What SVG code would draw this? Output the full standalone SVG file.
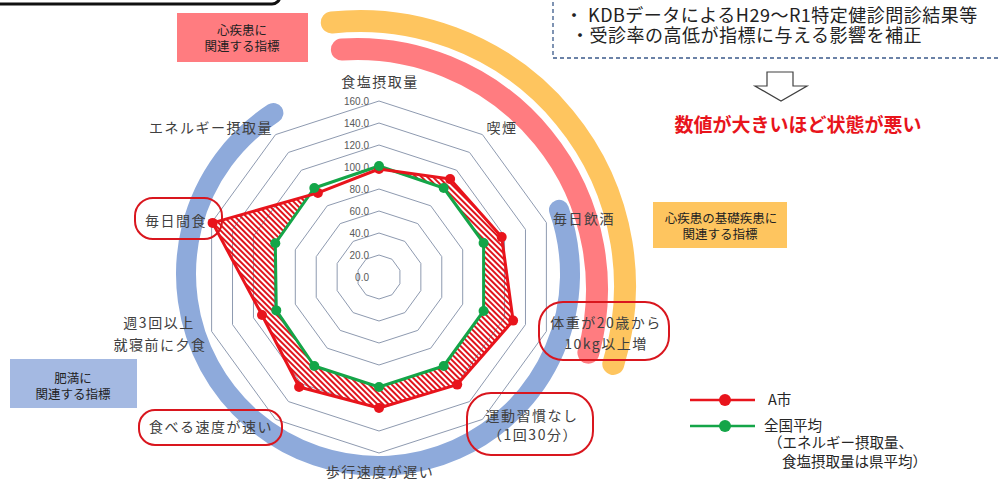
<svg xmlns="http://www.w3.org/2000/svg" width="1001" height="481" viewBox="0 0 1001 481">
<defs>
<style>
.lbl{font-family:"Noto Sans CJK JP","Noto Sans",sans-serif;font-size:14px;fill:#404040;letter-spacing:1.5px;text-anchor:middle}
.val{font-family:"Liberation Sans",Arial,sans-serif;font-size:10px;fill:#595959;text-anchor:end}
.box{font-family:"Noto Sans CJK JP","Noto Sans",sans-serif;font-size:12.5px;fill:#222;text-anchor:middle}
.leg{font-family:"Noto Sans CJK JP","Noto Sans",sans-serif;font-size:14.5px;fill:#262626}
.note{font-family:"Noto Sans CJK JP","Noto Sans",sans-serif;font-size:18px;fill:#222;letter-spacing:0.5px}
.ring{fill:none;stroke:#8e9ab0;stroke-width:1}
.oval{fill:none;stroke:#d9161e;stroke-width:2}
.arc{fill:none;stroke-linecap:round}
</style>
<pattern id="hatch" width="4" height="4" patternUnits="userSpaceOnUse" patternTransform="rotate(-45)">
<rect x="0" y="0" width="2" height="4" fill="#e0141c"/>
</pattern>
<mask id="hole" maskUnits="userSpaceOnUse" x="0" y="0" width="1001" height="481">
<rect x="0" y="0" width="1001" height="481" fill="#fff"/>
<polygon points="379,166 443.7,188 483.6,243 483.6,311 443.7,366 379,387 314.3,366 276.3,310.4 275.3,243.3 314.3,188" fill="#000"/>
</mask>
</defs>
<rect x="0" y="0" width="1001" height="481" fill="#fff"/>

<g id="frame-top-left">
<rect x="-20" y="-30" width="300" height="34" rx="8" fill="#fff" stroke="#111" stroke-width="3"/>
</g>

<g id="arcs">
<path class="arc" d="M273.4,113 A192,192 0 1 0 559,209.9" stroke="#8eaadb" stroke-width="20"/>
<path class="arc" d="M341.9,49.5 A240,240 0 0 1 588.4,352.7" stroke="#ff7c80" stroke-width="22"/>
<path class="arc" d="M331.8,22.5 A265,265 0 0 1 613.3,363.9" stroke="#fec55f" stroke-width="22"/>
</g>

<g id="grid" transform="translate(379,277)">
<polygon class="ring" points="0,-22 12.93,-17.8 20.92,-6.8 20.92,6.8 12.93,17.8 0,22 -12.93,17.8 -20.92,6.8 -20.92,-6.8 -12.93,-17.8"/>
<polygon class="ring" points="0,-44 25.86,-35.6 41.85,-13.6 41.85,13.6 25.86,35.6 0,44 -25.86,35.6 -41.85,13.6 -41.85,-13.6 -25.86,-35.6"/>
<polygon class="ring" points="0,-66 38.79,-53.39 62.77,-20.39 62.77,20.39 38.79,53.39 0,66 -38.79,53.39 -62.77,20.39 -62.77,-20.39 -38.79,-53.39"/>
<polygon class="ring" points="0,-88 51.73,-71.19 83.7,-27.19 83.7,27.19 51.73,71.19 0,88 -51.73,71.19 -83.7,27.19 -83.7,-27.19 -51.73,-71.19"/>
<polygon class="ring" points="0,-110 64.66,-88.99 104.62,-33.99 104.62,33.99 64.66,88.99 0,110 -64.66,88.99 -104.62,33.99 -104.62,-33.99 -64.66,-88.99"/>
<polygon class="ring" points="0,-132 77.59,-106.79 125.54,-40.79 125.54,40.79 77.59,106.79 0,132 -77.59,106.79 -125.54,40.79 -125.54,-40.79 -77.59,-106.79"/>
<polygon class="ring" points="0,-154 90.52,-124.59 146.47,-47.59 146.47,47.59 90.52,124.59 0,154 -90.52,124.59 -146.47,47.59 -146.47,-47.59 -90.52,-124.59"/>
<polygon class="ring" points="0,-176 103.45,-142.39 167.39,-54.39 167.39,54.39 103.45,142.39 0,176 -103.45,142.39 -167.39,54.39 -167.39,-54.39 -103.45,-142.39"/>
</g>

<g id="scale-values">
<text class="val" x="369" y="281">0.0</text>
<text class="val" x="369" y="259">20.0</text>
<text class="val" x="369" y="237">40.0</text>
<text class="val" x="369" y="215">60.0</text>
<text class="val" x="369" y="193">80.0</text>
<text class="val" x="369" y="171">100.0</text>
<text class="val" x="369" y="149">120.0</text>
<text class="val" x="369" y="127">140.0</text>
<text class="val" x="369" y="105">160.0</text>
</g>

<g id="series">
<polygon points="379,169 450.1,179.1 501.7,237.1 513.1,320.6 457.2,384.6 379,408 299.1,387 262,315 212.6,222.9 317.9,192.9" fill="url(#hatch)" mask="url(#hole)"/>
<polygon id="series-national" points="379,166 443.7,188 483.6,243 483.6,311 443.7,366 379,387 314.3,366 276.3,310.4 275.3,243.3 314.3,188" fill="none" stroke="#14a548" stroke-width="3" stroke-linejoin="round"/>
<polygon id="series-a" points="379,169 450.1,179.1 501.7,237.1 513.1,320.6 457.2,384.6 379,408 299.1,387 262,315 212.6,222.9 317.9,192.9" fill="none" stroke="#e8141c" stroke-width="3" stroke-linejoin="round"/>
<g fill="#e8141c">
<circle cx="379" cy="169" r="5"/><circle cx="450.1" cy="179.1" r="5"/><circle cx="501.7" cy="237.1" r="5"/><circle cx="513.1" cy="320.6" r="5"/><circle cx="457.2" cy="384.6" r="5"/><circle cx="379" cy="408" r="5"/><circle cx="299.1" cy="387" r="5"/><circle cx="262" cy="315" r="5"/><circle cx="212.6" cy="222.9" r="5"/><circle cx="317.9" cy="192.9" r="5"/>
</g>
<g fill="#14a548">
<circle cx="379" cy="166" r="5"/><circle cx="443.7" cy="188" r="5"/><circle cx="483.6" cy="243" r="5"/><circle cx="483.6" cy="311" r="5"/><circle cx="443.7" cy="366" r="5"/><circle cx="379" cy="387" r="5"/><circle cx="314.3" cy="366" r="5"/><circle cx="276.3" cy="310.4" r="5"/><circle cx="275.3" cy="243.3" r="5"/><circle cx="314.3" cy="188" r="5"/>
</g>
</g>

<g id="axis-labels">
<text class="lbl" x="380" y="87">食塩摂取量</text>
<text class="lbl" x="502" y="133">喫煙</text>
<text class="lbl" x="584" y="224">毎日飲酒</text>
<g id="label-weight">
<text class="lbl" x="606" y="328">体重が20歳から</text>
<text class="lbl" x="606" y="349">10kg以上増</text>
<rect class="oval" x="539" y="302" width="130" height="58" rx="24"/>
</g>
<g id="label-exercise">
<text class="lbl" x="532" y="421">運動習慣なし</text>
<text class="lbl" x="533" y="440">（1回30分）</text>
<rect class="oval" x="467" y="393" width="126" height="62" rx="24"/>
</g>
<text class="lbl" x="380" y="477">歩行速度が遅い</text>
<g id="label-eating-speed">
<rect class="oval" x="139" y="410" width="143" height="35" rx="16" fill="#fff"/>
<text class="lbl" x="211" y="432">食べる速度が速い</text>
</g>
<text class="lbl" x="159" y="328">週3回以上</text>
<text class="lbl" x="160" y="350">就寝前に夕食</text>
<g id="label-snack">
<rect class="oval" x="135" y="198" width="87" height="41" rx="18" fill="#fff"/>
<text class="lbl" x="176" y="226">毎日間食</text>
</g>
<text class="lbl" x="211" y="133">エネルギー摂取量</text>
</g>

<g id="box-heart">
<rect x="177" y="13" width="131" height="49" fill="#ff7c80"/>
<text class="box" x="242" y="35">心疾患に</text>
<text class="box" x="242" y="51">関連する指標</text>
</g>
<g id="box-base">
<rect x="653" y="202" width="134" height="46" fill="#fec55f"/>
<text class="box" x="721" y="223">心疾患の基礎疾患に</text>
<text class="box" x="720" y="239">関連する指標</text>
</g>
<g id="box-obesity">
<rect x="10" y="359" width="127" height="49" fill="#a4b9e2"/>
<text class="box" x="73" y="383">肥満に</text>
<text class="box" x="73" y="399">関連する指標</text>
</g>

<g id="note">
<rect x="553" y="-20" width="460" height="78" fill="none" stroke="#3b5a8a" stroke-width="1.3" stroke-dasharray="4,3"/>
<text class="note" x="565" y="22">・ KDBデータによるH29～R1特定健診問診結果等</text>
<text class="note" x="571" y="42">・受診率の高低が指標に与える影響を補正</text>
</g>

<g id="connectors">
<polygon points="767,72 793,72 793,86 807,86 781,101 755,86 767,86" fill="#fff" stroke="#404040" stroke-width="1.2"/>
</g>

<g id="conclusion">
<text x="798" y="132" text-anchor="middle" font-family="'Noto Sans CJK JP','Noto Sans',sans-serif" font-size="19" font-weight="bold" fill="#e8141c">数値が大きいほど状態が悪い</text>
</g>

<g id="legend">
<line x1="690" y1="400" x2="755" y2="400" stroke="#e8141c" stroke-width="2.5"/>
<circle cx="725" cy="400" r="6" fill="#e8141c"/>
<text class="leg" x="768" y="405">A市</text>
<line x1="690" y1="426" x2="755" y2="426" stroke="#14a548" stroke-width="2.5"/>
<circle cx="725" cy="426" r="6" fill="#14a548"/>
<text class="leg" x="764" y="431">全国平均</text>
<text class="leg" x="768" y="448">（エネルギー摂取量、</text>
<text class="leg" x="782" y="467">食塩摂取量は県平均）</text>
</g>
</svg>
